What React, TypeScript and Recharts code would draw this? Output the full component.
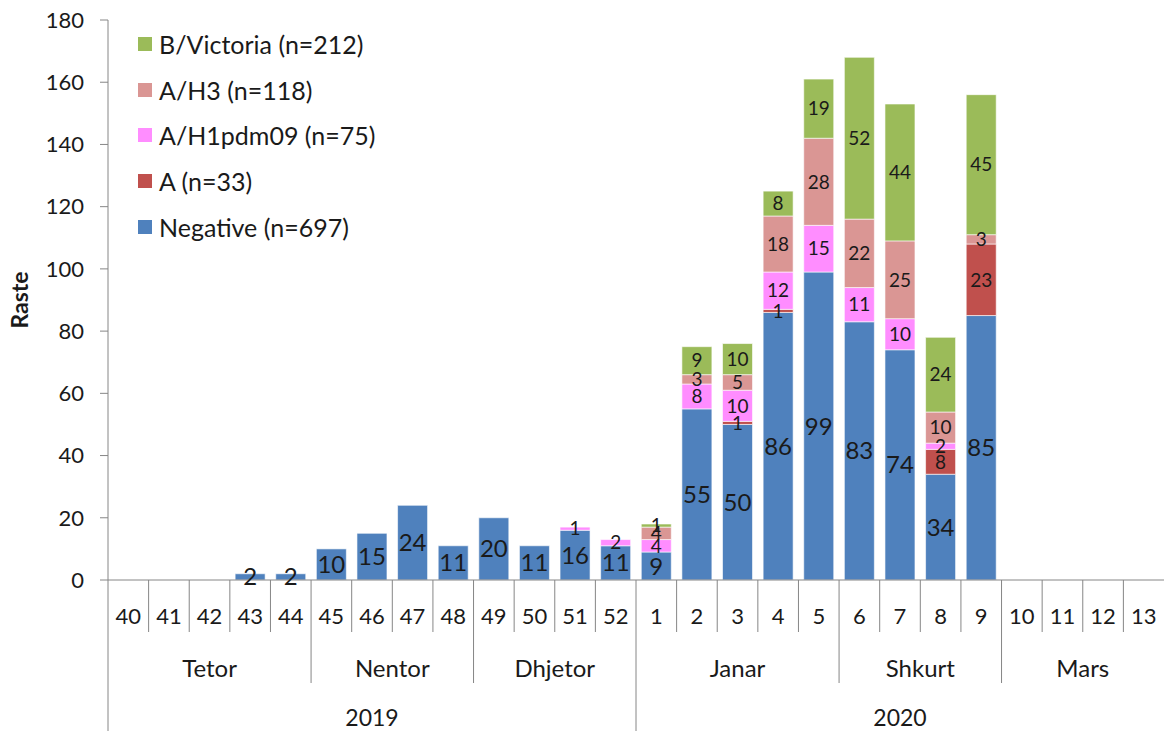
import React from "react";
import {
  BarChart,
  Bar,
  XAxis,
  YAxis,
  Legend,
  LabelList,
} from "recharts";

// Javët e sezonit 2019-2020
const weeks = [
  "40", "41", "42", "43", "44", "45", "46", "47", "48", "49", "50", "51", "52",
  "1", "2", "3", "4", "5", "6", "7", "8", "9", "10", "11", "12", "13",
];
const monthOfWeek = [
  "Tetor", "Tetor", "Tetor", "Tetor", "Tetor",
  "Nentor", "Nentor", "Nentor", "Nentor",
  "Dhjetor", "Dhjetor", "Dhjetor", "Dhjetor",
  "Janar", "Janar", "Janar", "Janar", "Janar",
  "Shkurt", "Shkurt", "Shkurt", "Shkurt",
  "Mars", "Mars", "Mars", "Mars",
];
const yearOfWeek = [
  "2019", "2019", "2019", "2019", "2019", "2019", "2019", "2019", "2019", "2019", "2019", "2019", "2019",
  "2020", "2020", "2020", "2020", "2020", "2020", "2020", "2020", "2020", "2020", "2020", "2020", "2020",
];

const negative = [0, 0, 0, 2, 2, 10, 15, 24, 11, 20, 11, 16, 11, 9, 55, 50, 86, 99, 83, 74, 34, 85, 0, 0, 0, 0];
const typeA = [0, 0, 0, 0, 0, 0, 0, 0, 0, 0, 0, 0, 0, 0, 0, 1, 1, 0, 0, 0, 8, 23, 0, 0, 0, 0];
const h1pdm09 = [0, 0, 0, 0, 0, 0, 0, 0, 0, 0, 0, 1, 2, 4, 8, 10, 12, 15, 11, 10, 2, 0, 0, 0, 0, 0];
const h3 = [0, 0, 0, 0, 0, 0, 0, 0, 0, 0, 0, 0, 0, 4, 3, 5, 18, 28, 22, 25, 10, 3, 0, 0, 0, 0];
const victoria = [0, 0, 0, 0, 0, 0, 0, 0, 0, 0, 0, 0, 0, 1, 9, 10, 8, 19, 52, 44, 24, 45, 0, 0, 0, 0];

const yTicks = [0, 20, 40, 60, 80, 100, 120, 140, 160, 180];

const data = weeks.map((week, i) => ({
  week,
  negative: negative[i],
  typeA: typeA[i],
  h1pdm09: h1pdm09[i],
  h3: h3[i],
  victoria: victoria[i],
}));

// rendi i grumbullimit (nga poshtë lart)
const series = [
  { key: "negative", name: "Negative (n=697)", color: "#4F81BD", labelSize: 24 },
  { key: "typeA", name: "A (n=33)", color: "#C0504D", labelSize: 19 },
  { key: "h1pdm09", name: "A/H1pdm09 (n=75)", color: "#FF8DFF", labelSize: 19 },
  { key: "h3", name: "A/H3 (n=118)", color: "#DA9694", labelSize: 19 },
  { key: "victoria", name: "B/Victoria (n=212)", color: "#9BBB59", labelSize: 19 },
];

const WIDTH = 1164;
const HEIGHT = 731;
const Y_AXIS_WIDTH = 108;
const X_AXIS_HEIGHT = 151;
const STEP = (WIDTH - Y_AXIS_WIDTH) / weeks.length;
const AXIS_COLOR = "#868686";
const TEXT_COLOR = "#1a1a1a";

const countOf = (list: string[], value: string) => list.filter((v) => v === value).length;

// Boshti X me tre nivele: java, muaji, viti
const MultiLevelTick = (props: any) => {
  const { x, y, payload } = props;
  const i = payload?.index ?? props.index;
  const half = payload?.offset > 0 ? payload.offset : STEP / 2;
  const left = x - half;
  const yearStart = i === 0 || yearOfWeek[i] !== yearOfWeek[i - 1];
  const monthStart = i === 0 || monthOfWeek[i] !== monthOfWeek[i - 1];
  const lineLen = yearStart ? X_AXIS_HEIGHT : monthStart ? 103 : 52;
  const monthWeeks = countOf(monthOfWeek, monthOfWeek[i]);
  const yearWeeks = countOf(yearOfWeek, yearOfWeek[i]);

  return (
    <g>
      <line x1={left} x2={left} y1={y} y2={y + lineLen} stroke={AXIS_COLOR} strokeWidth={1} />
      <text x={x} y={y + 35} textAnchor="middle" dominantBaseline="central" fontSize={22} fill={TEXT_COLOR}>
        {payload.value}
      </text>
      {monthStart && (
        <text
          x={left + monthWeeks * half}
          y={y + 87}
          textAnchor="middle"
          dominantBaseline="central"
          fontSize={24}
          fill={TEXT_COLOR}
        >
          {monthOfWeek[i]}
        </text>
      )}
      {yearStart && (
        <text
          x={left + yearWeeks * half}
          y={y + 137}
          textAnchor="middle"
          dominantBaseline="central"
          fontSize={23}
          fill={TEXT_COLOR}
        >
          {yearOfWeek[i]}
        </text>
      )}
    </g>
  );
};

const renderLegend = () => (
  <div style={{ fontFamily: "Lato", fontSize: 25, color: TEXT_COLOR }}>
    {[...series].reverse().map((s) => (
      <div key={s.key} style={{ display: "flex", alignItems: "center", height: 45.7 }}>
        <span style={{ width: 14, height: 14, background: s.color, marginRight: 7, display: "inline-block" }} />
        <span>{s.name}</span>
      </div>
    ))}
  </div>
);

const hideZero = (v: any) => (v ? v : "");

export default function App() {
  return (
    <div style={{ position: "absolute", left: 0, top: 0, fontFamily: "Lato", background: "#fff" }}>
      <BarChart
        width={WIDTH}
        height={HEIGHT}
        data={data}
        margin={{ top: 20, right: 0, bottom: 0, left: 0 }}
        barCategoryGap="13%"
      >
        <XAxis
          dataKey="week"
          height={X_AXIS_HEIGHT}
          interval={0}
          tickLine={false}
          tickSize={0}
          tickMargin={0}
          axisLine={{ stroke: AXIS_COLOR }}
          tick={<MultiLevelTick />}
        />
        <YAxis
          width={Y_AXIS_WIDTH}
          domain={[0, 180]}
          ticks={yTicks}
          interval={0}
          tickSize={8}
          tickMargin={16}
          axisLine={{ stroke: AXIS_COLOR }}
          tickLine={{ stroke: AXIS_COLOR }}
          tick={{ fontSize: 22, fill: TEXT_COLOR }}
          label={{
            value: "Raste",
            angle: -90,
            position: "insideLeft",
            offset: 20,
            style: { textAnchor: "middle", fontWeight: "bold", fontSize: 23, fill: TEXT_COLOR },
          }}
        />
        <Legend
          layout="vertical"
          align="center"
          verticalAlign="middle"
          content={renderLegend}
          wrapperStyle={{ left: 138, top: 21, width: 320 }}
        />
        {series.map((s) => (
          <Bar
            key={s.key}
            dataKey={s.key}
            name={s.name}
            stackId="raste"
            fill={s.color}
            stroke="#ffffff"
            strokeWidth={0.6}
            isAnimationActive={false}
          >
            <LabelList
              dataKey={s.key}
              position="center"
              formatter={hideZero}
              fill={TEXT_COLOR}
              fontSize={s.labelSize}
            />
          </Bar>
        ))}
      </BarChart>
    </div>
  );
}
